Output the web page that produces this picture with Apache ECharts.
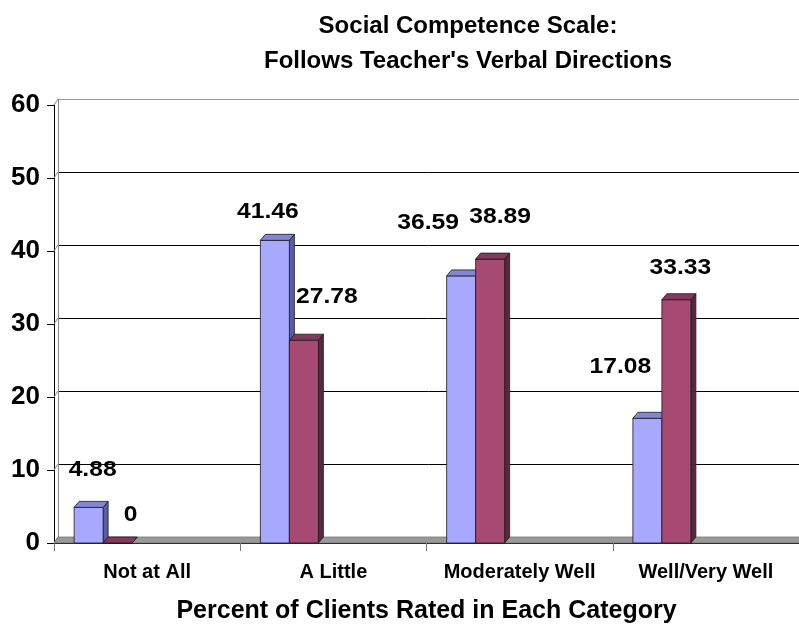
<!DOCTYPE html>
<html>
<head>
<meta charset="utf-8">
<script src="https://cdn.jsdelivr.net/npm/echarts@6/dist/echarts.min.js"></script>
<style>
  html, body { margin: 0; padding: 0; background: #fff; }
  #main { width: 799px; height: 630px; }
</style>
</head>
<body>
<div id="main"></div>
<script>
// data
var categories = ['Not at All', 'A Little', 'Moderately Well', 'Well/Very Well'];
var seriesA = [4.88, 41.46, 36.59, 17.08];
var seriesB = [0, 27.78, 38.89, 33.33];
var yTicks = [0, 10, 20, 30, 40, 50, 60];

// label nudges (excel 3d labels sit a bit off the bar)
var labelShiftA = [[4, -37], [-7, -28], [-33, -53], [-27, -51]];
var labelShiftB = [[13, -28], [23, -43], [10, -42], [4, -32]];

var FONT = "'Liberation Sans', Arial, sans-serif";
var barW = 29;
var pairShift = 44;   // pair of bars sits left of band centre
var dx = 5, dy = 6;   // 3d depth

function barRenderer(side, colors, shifts) {
  return function (params, api) {
    var i = params.dataIndex;
    var v = api.value(1);
    var base = api.coord([api.value(0), 0]);
    var top = api.coord([api.value(0), v]);
    var x0 = base[0] - pairShift + (side === 0 ? -barW : 0);
    var ty = top[1], by = base[1];
    var edge = { stroke: '#1a1a1a', lineWidth: 0.8 };
    var sh = shifts[i];
    return {
      type: 'group',
      children: [
        {
          type: 'polygon',
          shape: { points: [[x0 + barW, ty], [x0 + barW + dx, ty - dy], [x0 + barW + dx, by - dy], [x0 + barW, by]] },
          style: Object.assign({ fill: colors[2] }, edge)
        },
        {
          type: 'rect',
          shape: { x: x0, y: ty, width: barW, height: by - ty },
          style: Object.assign({ fill: colors[0] }, edge)
        },
        {
          type: 'polygon',
          shape: { points: [[x0, ty], [x0 + dx, ty - dy], [x0 + barW + dx, ty - dy], [x0 + barW, ty]] },
          style: Object.assign({ fill: colors[1] }, edge)
        },
        {
          type: 'text',
          x: x0 + barW / 2 + sh[0],
          y: ty + sh[1],
          scaleX: 1.12,
          style: {
            text: String(v),
            fontFamily: FONT, fontWeight: 'bold', fontSize: 22,
            fill: '#000', align: 'center', verticalAlign: 'middle'
          }
        }
      ]
    };
  };
}

function floorRenderer(params, api) {
  var cs = params.coordSys;
  var y0 = api.coord([0, 0])[1];
  var kids = [{
    type: 'polygon',
    shape: { points: [[cs.x, y0], [cs.x + dx - 1, y0 - dy], [cs.x + cs.width + dx, y0 - dy], [cs.x + cs.width, y0]] },
    style: { fill: '#999999', stroke: '#777777', lineWidth: 0.8 }
  }];
  yTicks.forEach(function (t) {
    var p = api.coord([0, t]);
    kids.push({
      type: 'line',
      shape: { x1: cs.x, y1: p[1], x2: cs.x + dx - 1, y2: p[1] - dy },
      style: { stroke: '#888888', lineWidth: 1 }
    });
  });
  return { type: 'group', children: kids };
}

var chart = echarts.init(document.getElementById('main'));
var option = {
  backgroundColor: '#ffffff',
  animation: false,
  title: {
    text: "Social Competence Scale:\nFollows Teacher's Verbal Directions",
    left: 463,
    top: 4,
    textAlign: 'center',
    textStyle: { fontFamily: FONT, fontWeight: 'bold', fontSize: 24, color: '#000', lineHeight: 35 }
  },
  grid: [
    { left: 54, top: 105, right: -7, bottom: 87 },
    { left: 58, top: 99, right: -11, bottom: 93 }
  ],
  xAxis: [
    {
      type: 'category',
      gridIndex: 0,
      data: categories,
      axisLine: { lineStyle: { color: '#000', width: 1 } },
      axisTick: { show: true, interval: 0, length: 8, lineStyle: { color: '#777' } },
      axisLabel: { interval: 0, hideOverlap: false, margin: 19, fontFamily: FONT, fontWeight: 'bold', fontSize: 20, color: '#000' },
      name: 'Percent of Clients Rated in Each Category',
      nameLocation: 'middle',
      nameGap: 56,
      nameTextStyle: { fontFamily: FONT, fontWeight: 'bold', fontSize: 25, color: '#000' }
    },
    {
      type: 'category',
      gridIndex: 1,
      data: categories,
      show: false
    }
  ],
  yAxis: [
    {
      type: 'value',
      gridIndex: 0,
      min: 0, max: 60, interval: 10,
      axisLine: { show: true, lineStyle: { color: '#000', width: 1 } },
      axisTick: { show: true, length: 7, lineStyle: { color: '#000' } },
      axisLabel: { margin: 14, fontFamily: FONT, fontWeight: 'bold', fontSize: 26, color: '#000' },
      splitLine: { show: false }
    },
    {
      type: 'value',
      gridIndex: 1,
      min: 0, max: 60, interval: 10,
      axisLine: { show: true, lineStyle: { color: '#888', width: 1 } },
      axisTick: { show: false },
      axisLabel: { show: false },
      splitLine: { show: true, lineStyle: { color: ['#888', '#000', '#000', '#000', '#000', '#000', '#999'], width: 1 } }
    }
  ],
  series: [
    {
      type: 'custom',
      name: 'floor',
      xAxisIndex: 0, yAxisIndex: 0,
      renderItem: floorRenderer,
      data: [[0, 0]],
      z: 2,
      silent: true
    },
    {
      type: 'custom',
      name: 'A',
      xAxisIndex: 0, yAxisIndex: 0,
      renderItem: barRenderer(0, ['#A8A8FF', '#8585D6', '#5C5CA3'], labelShiftA),
      data: seriesA.map(function (v, i) { return [i, v]; }),
      encode: { x: 0, y: 1 },
      z: 3
    },
    {
      type: 'custom',
      name: 'B',
      xAxisIndex: 0, yAxisIndex: 0,
      renderItem: barRenderer(1, ['#A64A74', '#85385B', '#5A2642'], labelShiftB),
      data: seriesB.map(function (v, i) { return [i, v]; }),
      encode: { x: 0, y: 1 },
      z: 4
    }
  ]
};
chart.setOption(option);
</script>
</body>
</html>
